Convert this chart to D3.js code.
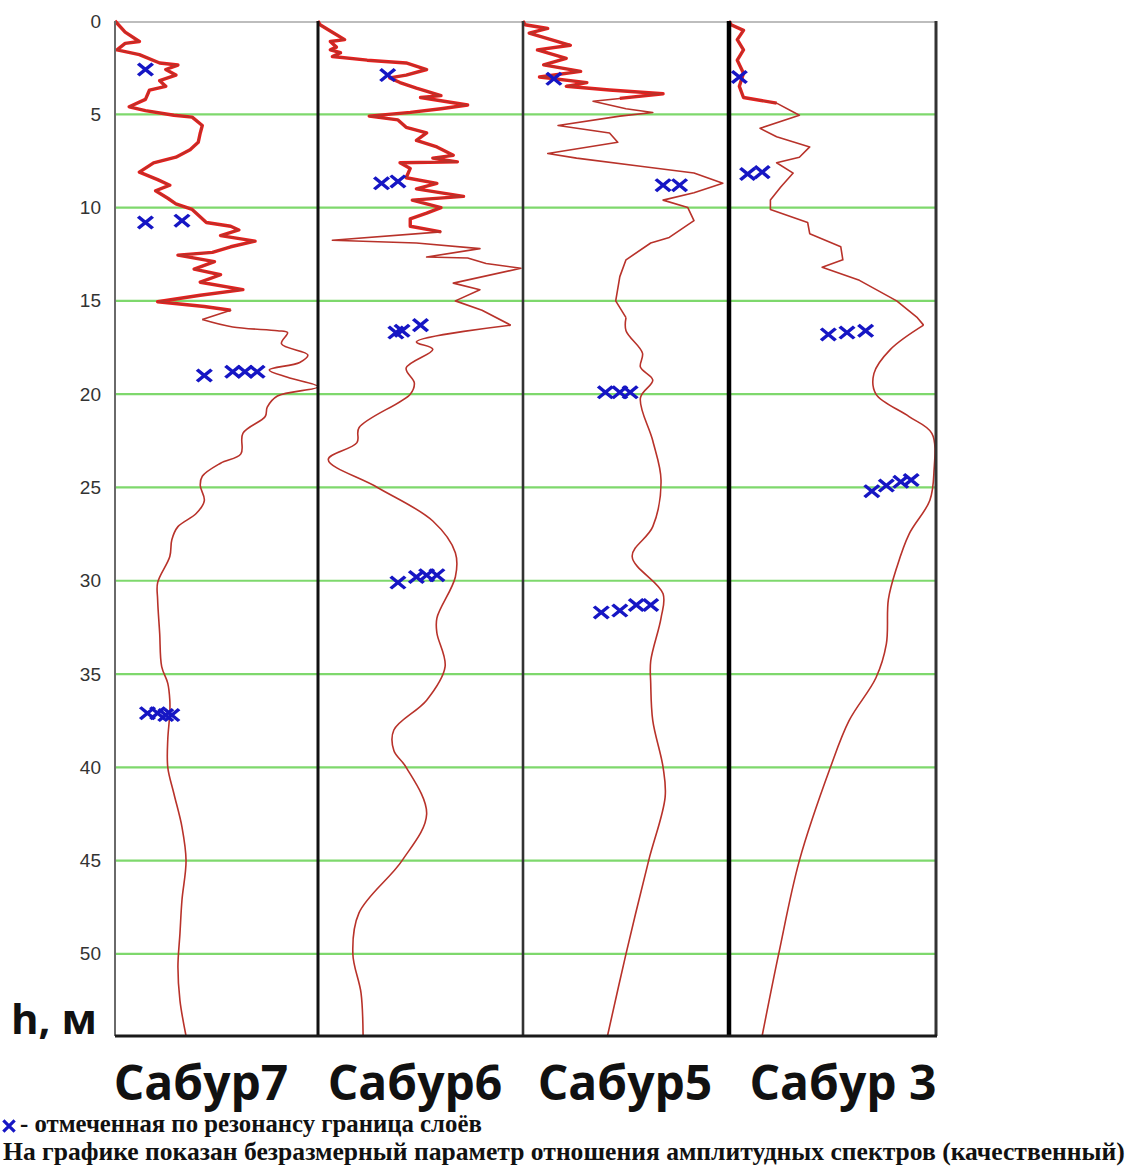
<!DOCTYPE html>
<html>
<head>
<meta charset="utf-8">
<script src="https://cdn.jsdelivr.net/npm/d3@7"></script>
<style>
  html, body { margin: 0; padding: 0; background: #fff; }
  svg { display: block; }
</style>
</head>
<body>
<svg id="chart" width="1135" height="1174"></svg>
<script>
// Depth ticks (m) and well names
const depthTicks = [0, 5, 10, 15, 20, 25, 30, 35, 40, 45, 50];
const wells = ["Сабур7", "Сабур6", "Сабур5", "Сабур 3"];

// Curves: [depth m, relative parameter 0..1 within its column]
const curve7 = [
  [0, 0.00], [0.6, 0.05], [1.1, 0.12], [1.2, 0.05], [1.55, 0.01], [1.8, 0.12], [2.25, 0.22],
  [2.36, 0.31], [2.6, 0.25], [2.9, 0.30], [3.2, 0.22], [3.5, 0.25], [3.7, 0.17], [4.2, 0.15],
  [4.6, 0.07], [4.8, 0.15], [5.05, 0.29], [5.15, 0.38], [5.6, 0.43], [6.0, 0.42], [6.5, 0.41],
  [6.9, 0.37], [7.3, 0.30], [7.6, 0.19], [8.1, 0.12], [8.5, 0.21], [8.8, 0.27], [9.1, 0.20],
  [9.5, 0.26], [9.8, 0.30], [10.1, 0.38], [10.8, 0.45], [11.0, 0.57], [11.2, 0.61], [11.5, 0.52],
  [11.8, 0.69], [12.1, 0.57], [12.4, 0.48], [12.55, 0.31], [12.9, 0.49], [13.3, 0.39], [13.6, 0.52],
  [14.0, 0.42], [14.4, 0.63], [14.7, 0.42], [15.05, 0.21], [15.3, 0.44], [15.5, 0.57], [16.0, 0.43],
  [16.4, 0.58], [16.6, 0.80], [16.7, 0.85], [17.3, 0.82], [17.9, 0.95], [18.3, 0.91], [18.7, 0.76],
  [19.1, 0.85], [19.6, 1.00], [20.1, 0.80], [20.7, 0.75], [21.2, 0.74], [22.1, 0.63], [23.2, 0.62],
  [23.7, 0.52], [24.4, 0.43], [24.9, 0.42], [25.7, 0.44], [26.4, 0.40], [27.1, 0.31], [27.8, 0.28],
  [28.7, 0.27], [30.1, 0.21], [31.0, 0.21], [32.8, 0.22], [34.6, 0.23], [35.5, 0.26], [36.4, 0.27],
  [37.1, 0.27], [38.5, 0.26], [40.0, 0.26], [41.4, 0.29], [43.2, 0.33], [45.0, 0.35], [47.1, 0.33],
  [48.9, 0.32], [50.7, 0.31], [52.5, 0.32], [54.4, 0.35]
];
const curve6 = [
  [0, 0.00], [0.2, 0.01], [0.6, 0.07], [1.0, 0.13], [1.1, 0.06], [1.4, 0.09], [1.55, 0.06], [1.7, 0.11],
  [1.9, 0.07], [2.1, 0.24], [2.25, 0.43], [2.6, 0.53], [2.9, 0.43], [3.05, 0.35], [3.3, 0.40],
  [3.6, 0.48], [4.0, 0.60], [4.1, 0.50], [4.5, 0.73], [4.7, 0.60], [4.9, 0.45], [5.1, 0.25],
  [5.3, 0.39], [5.7, 0.43], [6.0, 0.53], [6.4, 0.48], [6.75, 0.58], [7.2, 0.66], [7.35, 0.56],
  [7.55, 0.68], [7.6, 0.40], [7.9, 0.45], [8.4, 0.43], [8.7, 0.58], [9.0, 0.48], [9.4, 0.71],
  [9.6, 0.46], [10.0, 0.60], [10.3, 0.53], [10.6, 0.45], [11.0, 0.45], [11.3, 0.60], [11.75, 0.07],
  [11.9, 0.48], [12.2, 0.79], [12.65, 0.53], [12.7, 0.73], [13.0, 0.82], [13.25, 0.99], [14.05, 0.66],
  [14.4, 0.79], [15.0, 0.67], [15.5, 0.80], [16.3, 0.94], [17.2, 0.48], [17.6, 0.56], [18.6, 0.43],
  [19.4, 0.47], [20.0, 0.45], [21.8, 0.20], [22.6, 0.19], [23.5, 0.05], [25.0, 0.29], [26.8, 0.56],
  [28.5, 0.67], [29.8, 0.67], [32.0, 0.58], [32.8, 0.58], [34.6, 0.62], [36.4, 0.53], [38.0, 0.37],
  [39.1, 0.37], [40.0, 0.43], [42.5, 0.53], [45.0, 0.41], [47.8, 0.20], [50.0, 0.17], [52.1, 0.21],
  [54.4, 0.22]
];
const curve5 = [
  [0, 0.00], [0.2, 0.01], [0.4, 0.12], [0.65, 0.03], [1.3, 0.23], [1.55, 0.07], [2.0, 0.21], [2.35, 0.10],
  [2.7, 0.28], [3.0, 0.08], [3.3, 0.31], [3.5, 0.21], [3.7, 0.42], [3.9, 0.68], [4.15, 0.47],
  [4.3, 0.34], [4.7, 0.50], [4.9, 0.63], [5.1, 0.47], [5.6, 0.17], [6.0, 0.42], [6.5, 0.46],
  [7.1, 0.12], [7.35, 0.26], [7.8, 0.58], [8.15, 0.83], [8.7, 0.97], [9.2, 0.83], [9.6, 0.68],
  [10.0, 0.80], [10.7, 0.83], [11.6, 0.71], [11.9, 0.62], [12.8, 0.50], [13.7, 0.47], [15.0, 0.45],
  [15.9, 0.50], [16.6, 0.50], [17.8, 0.58], [18.55, 0.57], [19.25, 0.63], [20.2, 0.57], [22.5, 0.63],
  [24.6, 0.67], [27.1, 0.63], [28.7, 0.53], [30.7, 0.68], [32.0, 0.67], [34.3, 0.62], [35.5, 0.62],
  [37.5, 0.63], [40.0, 0.68], [41.6, 0.69], [45.0, 0.61], [50.0, 0.50], [54.4, 0.41]
];
const curve3 = [
  [0, 0.00], [0.2, 0.01], [0.5, 0.07], [1.0, 0.04], [1.55, 0.07], [2.1, 0.04], [2.8, 0.07], [3.5, 0.05],
  [4.1, 0.07], [4.4, 0.23], [5.05, 0.34], [5.75, 0.15], [6.2, 0.23], [6.75, 0.39], [7.3, 0.34],
  [7.6, 0.23], [8.15, 0.31], [8.9, 0.25], [9.6, 0.20], [10.1, 0.20], [10.8, 0.38], [11.4, 0.39],
  [12.1, 0.54], [12.8, 0.55], [13.2, 0.45], [13.9, 0.63], [15.0, 0.81], [15.9, 0.91], [16.3, 0.94],
  [17.6, 0.78], [18.9, 0.70], [20.0, 0.71], [21.2, 0.87], [22.1, 0.98], [24.2, 0.99], [25.7, 0.97],
  [27.5, 0.87], [29.3, 0.81], [31.0, 0.77], [33.4, 0.76], [35.2, 0.71], [37.5, 0.58], [40.0, 0.49],
  [45.0, 0.34], [50.0, 0.24], [54.4, 0.16]
];

// Resonance-picked layer boundaries: [depth m, relative position]
const marks7 = [[2.6, 0.15], [10.8, 0.15], [10.7, 0.33], [19.0, 0.44], [18.8, 0.58], [18.8, 0.64],
  [18.8, 0.70], [37.1, 0.16], [37.1, 0.21], [37.2, 0.25], [37.2, 0.28]];
const marks6 = [[2.9, 0.34], [8.7, 0.31], [8.6, 0.39], [16.7, 0.38], [16.6, 0.41], [16.3, 0.50],
  [30.1, 0.39], [29.8, 0.48], [29.7, 0.53], [29.7, 0.58]];
const marks5 = [[3.1, 0.15], [8.8, 0.68], [8.8, 0.76], [19.9, 0.40], [19.9, 0.47], [19.9, 0.52],
  [31.7, 0.38], [31.6, 0.47], [31.3, 0.55], [31.3, 0.62]];
const marks3 = [[3.0, 0.05], [8.2, 0.09], [8.1, 0.16], [16.8, 0.48], [16.7, 0.57], [16.6, 0.66],
  [25.2, 0.69], [24.9, 0.76], [24.7, 0.83], [24.6, 0.88]];

const curves = [curve7, curve6, curve5, curve3];
const marks = [marks7, marks6, marks5, marks3];

const legendText = "- отмеченная по резонансу граница слоёв";
const noteText = "На графике показан безразмерный параметр отношения амплитудных спектров (качественный)";

(function() {
    const svg = d3.select('#chart');
    const top = 21, bottom = 1036;
    const edges = [115, 318, 523, 729, 936];   // column borders
    const noisyTo = [15.5, 11.5, 4.2, 4.5];     // depth where the thick noisy trace ends
    const smoothFrom = 16.3;                    // below this the trace is smooth

    const y = d3.scaleLinear().domain([0, 54.4]).range([top, bottom]);
    // each column gets its own x scale (columns are not quite equal width)
    const xs = wells.map(function(w, i) {
        return d3.scaleLinear().domain([0, 1]).range([edges[i], edges[i + 1]]);
    });

    svg.append('rect').attr('width', 1135).attr('height', 1174).attr('fill', '#fff');

    // Green depth lines
    svg.append('g').selectAll('line')
        .data(depthTicks.filter(function(d) { return d > 0; }))
        .join('line')
        .attr('x1', edges[0]).attr('x2', edges[4])
        .attr('y1', function(d) { return y(d); }).attr('y2', function(d) { return y(d); })
        .attr('stroke', '#7ed86c')
        .attr('stroke-width', 2.2);

    // Top frame line (light grey)
    svg.append('line')
        .attr('x1', edges[0]).attr('x2', edges[4])
        .attr('y1', top + 1).attr('y2', top + 1)
        .attr('stroke', '#bdbdbd').attr('stroke-width', 2);

    // Depth axis labels
    const axis = d3.axisLeft(y).tickValues(depthTicks).tickSize(0).tickPadding(14);
    const ag = svg.append('g').attr('transform', 'translate(' + edges[0] + ',0)').call(axis);
    ag.select('.domain').remove();
    ag.selectAll('text')
        .attr('font-family', '"Liberation Sans", Arial, sans-serif')
        .attr('font-size', 19)
        .attr('fill', '#333');

    // Curves: jagged upper part drawn straight, deeper part smoothed
    curves.forEach(function(c, i) {
        const x = xs[i];
        const line = d3.line()
            .x(function(d) { return x(d[1]); })
            .y(function(d) { return y(d[0]); });
        const upper = c.filter(function(d) { return d[0] <= smoothFrom; });
        const lower = c.filter(function(d) { return d[0] >= upper[upper.length - 1][0]; });

        svg.append('path')
            .datum(c.filter(function(d) { return d[0] <= noisyTo[i]; }))
            .attr('d', line.curve(d3.curveLinear))
            .attr('fill', 'none')
            .attr('stroke', '#ee1c1c')
            .attr('stroke-width', 3.4)
            .attr('stroke-linejoin', 'round');

        const g = svg.append('g')
            .attr('fill', 'none')
            .attr('stroke', '#b8322a')
            .attr('stroke-width', 1.6)
            .attr('stroke-linejoin', 'round');
        g.append('path').datum(upper).attr('d', line.curve(d3.curveLinear));
        g.append('path').datum(lower).attr('d', line.curve(d3.curveCatmullRom.alpha(0.5)));
    });

    // Blue X marks
    const sym = d3.symbol().type(d3.symbolX).size(115);
    marks.forEach(function(m, i) {
        const x = xs[i];
        svg.append('g').selectAll('path')
            .data(m)
            .join('path')
            .attr('d', sym)
            .attr('transform', function(d) { return 'translate(' + x(d[1]) + ',' + y(d[0]) + ') scale(1.1,0.9)'; })
            .attr('fill', 'none')
            .attr('stroke', '#1616c4')
            .attr('stroke-width', 3.4);
    });

    // Column separators
    const sepStyle = [
        { c: '#6a6a6a', w: 2 },
        { c: '#111', w: 3 },
        { c: '#333', w: 2.6 },
        { c: '#000', w: 4.5 },
        { c: '#333', w: 3 }
    ];
    edges.forEach(function(e, i) {
        svg.append('line')
            .attr('x1', e).attr('x2', e)
            .attr('y1', top).attr('y2', bottom)
            .attr('stroke', sepStyle[i].c)
            .attr('stroke-width', sepStyle[i].w);
    });
    svg.append('line')
        .attr('x1', edges[0]).attr('x2', edges[4] + 1)
        .attr('y1', bottom).attr('y2', bottom)
        .attr('stroke', '#1a1a1a').attr('stroke-width', 3);

    // "h, м"
    svg.append('text')
        .attr('x', 11).attr('y', 1034)
        .attr('font-family', '"Open Sans", sans-serif')
        .attr('font-weight', 'bold')
        .attr('font-size', 42)
        .attr('fill', '#111')
        .text('h, м');

    // Well names
    const titleX = [201, 415, 625, 843];
    svg.append('g').selectAll('text')
        .data(wells)
        .join('text')
        .attr('x', function(d, i) { return titleX[i]; })
        .attr('y', 1100)
        .attr('text-anchor', 'middle')
        .attr('font-family', '"Open Sans", sans-serif')
        .attr('font-weight', 'bold')
        .attr('font-size', 48)
        .attr('fill', '#111')
        .text(function(d) { return d; });

    // Legend: blue cross + explanation
    svg.append('path')
        .attr('d', d3.symbol().type(d3.symbolX).size(85))
        .attr('transform', 'translate(9,1126)')
        .attr('fill', 'none')
        .attr('stroke', '#1616c4')
        .attr('stroke-width', 3.2);

    // serif bold lines, font size fitted so the natural width matches the reference
    function fitText(x, yb, txt, width) {
        const t = svg.append('text')
            .attr('x', x).attr('y', yb)
            .attr('font-family', '"Liberation Serif", "Times New Roman", serif')
            .attr('font-weight', 'bold')
            .attr('font-size', 26)
            .attr('fill', '#111')
            .text(txt);
        const len = t.node().getComputedTextLength();
        t.attr('font-size', (26 * width / len).toFixed(2));
    }
    fitText(20, 1132, legendText, 462);
    fitText(3, 1160, noteText, 1122);
})();
</script>
</body>
</html>
